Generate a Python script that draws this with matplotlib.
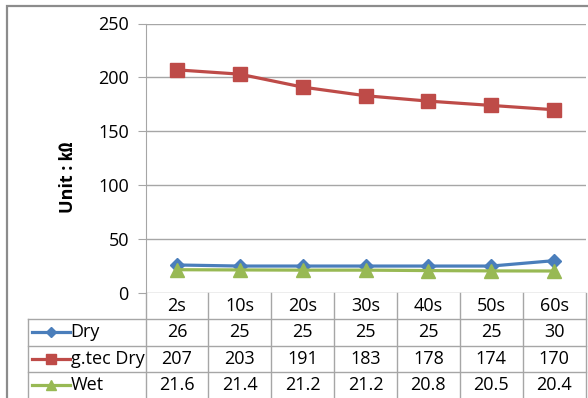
import matplotlib
matplotlib.use("Agg")
import matplotlib.pyplot as plt
from matplotlib.lines import Line2D
from matplotlib.patches import Rectangle

plt.rcParams["font.family"] = ["Open Sans", "Noto Sans CJK KR", "DejaVu Sans"]

# electrode impedance over time
times = ["2s", "10s", "20s", "30s", "40s", "50s", "60s"]
dry = [26, 25, 25, 25, 25, 25, 30]
gtec_dry = [207, 203, 191, 183, 178, 174, 170]
wet = [21.6, 21.4, 21.2, 21.2, 20.8, 20.5, 20.4]
series_names = ["Dry", "g.tec Dry", "Wet"]
y_ticks = [0, 50, 100, 150, 200, 250]

series = [dry, gtec_dry, wet]
colors = ["#4A7EBB", "#BE4B48", "#98B954"]
markers = ["D", "s", "^"]
msizes = [7, 9.5, 9.5]
grid_c = "#A6A6A6"
fs = 13

W, H = 588, 398
fig = plt.figure(figsize=(W / 100, H / 100), dpi=100)

def fx(px):
    return px / W

def fy(py):
    return 1 - py / H

# outer chart border
fig.add_artist(Rectangle((fx(7), fy(420)), fx(600), fy(6) - fy(420),
                         transform=fig.transFigure, fill=False,
                         edgecolor="#8C8C8C", lw=1.6))

# plot area
px_l, px_r, px_t, px_b = 145.5, 585.5, 23.5, 293
ax = fig.add_axes([fx(px_l), fy(px_b), fx(px_r) - fx(px_l), fy(px_t) - fy(px_b)])
x = list(range(len(times)))
for vals, c, m, ms in zip(series, colors, markers, msizes):
    ax.plot(x, vals, color=c, lw=2.3, marker=m, ms=ms,
            markerfacecolor=c, markeredgecolor=c, zorder=3)
ax.set_xlim(-0.5, len(times) - 0.5)
ax.set_ylim(0, 250)
ax.set_yticks(y_ticks)
ax.set_xticks([])
ax.yaxis.grid(True, color=grid_c, lw=1)
ax.set_axisbelow(True)
for s in ["top", "right", "bottom"]:
    ax.spines[s].set_visible(False)
ax.spines["left"].set_color(grid_c)
ax.tick_params(axis="y", length=6, color=grid_c, labelsize=fs, pad=6,
               labelcolor="black")
ax.set_ylabel("Unit : ㏀", fontsize=fs, fontweight="bold")
ax.yaxis.set_label_coords(-0.155, 0.43)

# data table below the plot
leg_w = (px_l - 28) / (px_r - px_l) * len(times)
tab = fig.add_axes([fx(28), 0, fx(px_r) - fx(28), fy(px_b)])
tab.set_xlim(-0.5 - leg_w, len(times) - 0.5)
tab.set_ylim(4, 0)
tab.axis("off")
x0 = -0.5 - leg_w
x1 = len(times) - 0.5
lk = dict(color=grid_c, lw=1, clip_on=False)
for r in (1, 2, 3):
    tab.plot([x0, x1], [r, r], **lk)
for k in range(len(times) + 1):
    tab.plot([k - 0.5, k - 0.5], [0, 4.2], **lk)
tab.plot([x0, x0], [1, 4.2], **lk)

for i, t in enumerate(times):
    tab.text(i, 0.5, t, ha="center", va="center", fontsize=fs)
for r, (name, vals, c, m, ms) in enumerate(zip(series_names, series, colors, markers, msizes), start=1):
    for i, v in enumerate(vals):
        tab.text(i, r + 0.5, f"{v:g}", ha="center", va="center", fontsize=fs)
    lx0 = x0 + 0.07
    lx1 = x0 + 0.67
    tab.add_line(Line2D([lx0, lx1], [r + 0.5, r + 0.5], color=c, lw=2.3))
    tab.plot([(lx0 + lx1) / 2], [r + 0.5], marker=m, ms=ms * 0.8, color=c)
    tab.text(lx1 + 0.01, r + 0.5, name, ha="left", va="center", fontsize=fs)

fig.savefig("out.png", dpi=100, facecolor="white")
